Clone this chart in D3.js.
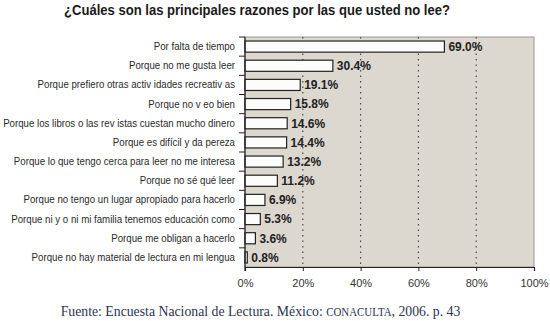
<!DOCTYPE html>
<html>
<head>
<meta charset="utf-8">
<script src="https://cdn.jsdelivr.net/npm/d3@7"></script>
<style>
  html, body { margin: 0; padding: 0; background: #ffffff; }
  svg { display: block; }
</style>
</head>
<body>
<svg id="chart" width="550" height="321"></svg>
<script>
const title = "¿Cuáles son las principales razones por las que usted no lee?";
const categories = [
  "Por falta de tiempo",
  "Porque no me gusta leer",
  "Porque prefiero otras activ idades recreativ as",
  "Porque no v eo bien",
  "Porque los libros o las rev istas cuestan mucho dinero",
  "Porque es difícil y  da pereza",
  "Porque lo que tengo cerca para leer no me interesa",
  "Porque no sé qué leer",
  "Porque no tengo un lugar apropiado para hacerlo",
  "Porque ni y o ni mi familia tenemos educación como",
  "Porque me obligan a hacerlo",
  "Porque no hay material de lectura en mi lengua"
];
const values = [69.0, 30.4, 19.1, 15.8, 14.6, 14.4, 13.2, 11.2, 6.9, 5.3, 3.6, 0.8];
const xTicks = [0, 20, 40, 60, 80, 100];
const sourceParts = ["Fuente: Encuesta Nacional de Lectura. México: ", "CONACULTA", ", 2006. p. 43"];

const svg = d3.select("#chart");
const W = 550, H = 321;
const m = { top: 37, right: 16, bottom: 54, left: 245 };
const iw = W - m.left - m.right, ih = H - m.top - m.bottom;

const x = d3.scaleLinear().domain([0, 100]).range([0, iw]);
const y = d3.scaleBand().domain(categories).range([0, ih]).paddingInner(0.42).paddingOuter(0.21);

// title
svg.append("text")
  .attr("x", 257).attr("y", 15)
  .attr("text-anchor", "middle")
  .attr("font-family", "'Liberation Sans', Arial, sans-serif")
  .attr("font-weight", "bold")
  .attr("font-size", 15)
  .attr("fill", "#1a1a1a")
  .attr("textLength", 386)
  .attr("lengthAdjust", "spacingAndGlyphs")
  .text(title);

const g = svg.append("g").attr("transform", `translate(${m.left},${m.top})`);

// plot background
g.append("rect")
  .attr("x", 0).attr("y", 0).attr("width", iw).attr("height", ih)
  .attr("fill", "#dcd7cf")
  .attr("stroke", "#9c9890").attr("stroke-width", 1);

// gridlines
g.selectAll("line.grid")
  .data(xTicks.filter(t => t > 0 && t < 100))
  .join("line")
  .attr("class", "grid")
  .attr("x1", d => x(d)).attr("x2", d => x(d))
  .attr("y1", 0).attr("y2", ih)
  .attr("stroke", "#4a4a4a").attr("stroke-width", 1.2)
  .attr("stroke-dasharray", "1.5,4");

// bars
g.selectAll("rect.bar")
  .data(values)
  .join("rect")
  .attr("class", "bar")
  .attr("x", 0)
  .attr("y", (d, i) => y(categories[i]))
  .attr("width", d => x(d))
  .attr("height", y.bandwidth())
  .attr("fill", "#fcfcfa")
  .attr("stroke", "#222")
  .attr("stroke-width", 1.2);

// value labels
g.selectAll("text.val")
  .data(values)
  .join("text")
  .attr("class", "val")
  .attr("x", d => x(d) + 4)
  .attr("y", (d, i) => y(categories[i]) + y.bandwidth() / 2)
  .attr("dy", "0.36em")
  .attr("font-family", "'Liberation Sans', Arial, sans-serif")
  .attr("font-weight", "bold")
  .attr("font-size", 12)
  .attr("fill", "#222")
  .text(d => d.toFixed(1) + "%");

// x axis
const xAxis = g.append("g")
  .attr("transform", `translate(0,${ih})`)
  .call(d3.axisBottom(x).tickValues(xTicks).tickFormat(d => d + "%").tickSize(4).tickPadding(8));
xAxis.select(".domain").attr("stroke", "#222").attr("stroke-width", 1.2);
xAxis.selectAll(".tick line").attr("stroke", "#222");
xAxis.selectAll("text")
  .attr("font-family", "'Liberation Sans', Arial, sans-serif")
  .attr("font-size", 11).attr("fill", "#333");

// y axis (labels condensed horizontally to emulate a narrow typeface)
const narrow = 0.88;
const yAxis = g.append("g").call(d3.axisLeft(y).tickSize(0).tickPadding(10));
yAxis.select(".domain").attr("stroke", "#222").attr("stroke-width", 1.2).attr("d", `M0,0V${ih + 4}`);
yAxis.selectAll("text")
  .attr("font-family", "'Liberation Sans', Arial, sans-serif")
  .attr("font-size", 11).attr("fill", "#2a2a2a")
  .attr("x", -10 / narrow)
  .attr("transform", `scale(${narrow},1)`);

// category boundary ticks
const bounds = categories.map((c, i) => y(c) - y.step() * y.paddingInner() / 2);
g.selectAll("line.ctick")
  .data(bounds)
  .join("line")
  .attr("class", "ctick")
  .attr("x1", -6).attr("x2", 0)
  .attr("y1", d => d).attr("y2", d => d)
  .attr("stroke", "#222").attr("stroke-width", 1);

// source
const src = svg.append("text")
  .attr("transform", "translate(260.5,316) scale(0.95,1)")
  .attr("text-anchor", "middle")
  .attr("font-family", "'Liberation Serif', 'DejaVu Serif', serif")
  .attr("font-size", 14.5)
  .attr("fill", "#2b3350");
src.append("tspan").text(sourceParts[0]);
src.append("tspan").attr("font-size", 11.5).text(sourceParts[1]);
src.append("tspan").text(sourceParts[2]);
</script>
</body>
</html>
